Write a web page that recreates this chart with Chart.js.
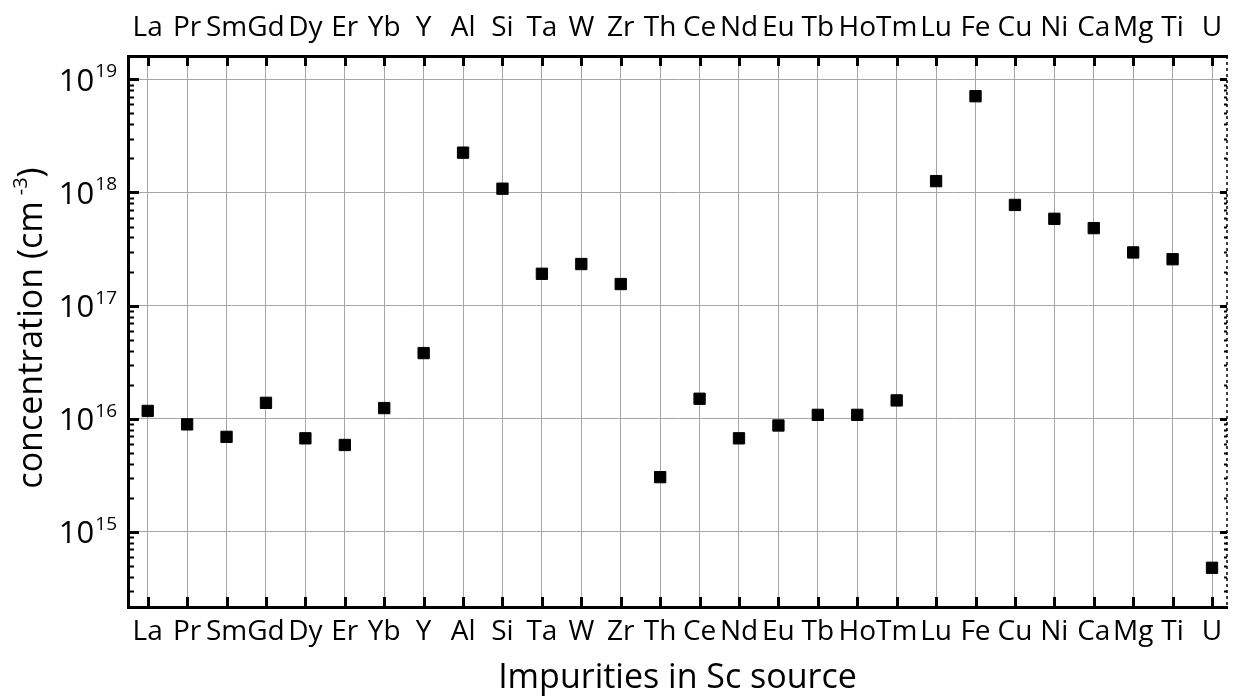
<!DOCTYPE html>
<html>
<head>
<meta charset="utf-8">
<title>Impurities in Sc source</title>
<script src="https://cdn.jsdelivr.net/npm/chart.js@4/dist/chart.umd.min.js"></script>
<style>
  html, body { margin: 0; padding: 0; background: #fff; }
  canvas { display: block; }
</style>
</head>
<body>
<canvas id="impurityChart" width="1236" height="696"></canvas>
<script>
const elements = ['La', 'Pr', 'Sm', 'Gd', 'Dy', 'Er', 'Yb', 'Y', 'Al', 'Si', 'Ta', 'W', 'Zr', 'Th',
    'Ce', 'Nd', 'Eu', 'Tb', 'Ho', 'Tm', 'Lu', 'Fe', 'Cu', 'Ni', 'Ca', 'Mg', 'Ti', 'U'];
const concentrations = [1.17e16, 8.9e15, 6.9e15, 1.38e16, 6.7e15, 5.85e15, 1.24e16, 3.8e16,
    2.25e18, 1.08e18, 1.91e17, 2.33e17, 1.55e17, 3.04e15, 1.5e16, 6.7e15, 8.7e15, 1.08e16,
    1.08e16, 1.45e16, 1.26e18, 7.1e18, 7.76e17, 5.85e17, 4.84e17, 2.95e17, 2.57e17, 4.8e14];
const decades = [15, 16, 17, 18, 19];
const yMin = 2.16e14;
const yMax = 1.61e19;

const FONT = "'Open Sans', sans-serif";
const GRID = '#a6a6a6';

const isDecade = v => {
    const l = Math.log10(v);
    return Math.abs(l - Math.round(l)) < 1e-6;
};

const categoryTicks = scale => {
    scale.ticks = elements.map((_, i) => ({ value: i }));
};

// inward tick marks, the right frame, decade labels and the y title
const axisDecor = {
    id: 'axisDecor',
    afterDraw(chart) {
        const ctx = chart.ctx;
        const { left, right, top, bottom } = chart.chartArea;
        const x = chart.scales.x;
        const y = chart.scales.y;
        ctx.save();
        ctx.strokeStyle = '#000';

        ctx.lineWidth = 3;
        elements.forEach((_, i) => {
            const px = Math.round(x.getPixelForValue(i)) + 0.5;
            ctx.beginPath();
            ctx.moveTo(px, bottom);
            ctx.lineTo(px, bottom - 10);
            ctx.moveTo(px, top);
            ctx.lineTo(px, top + 10);
            ctx.stroke();
        });

        for (let e = 14; e <= 19; e++) {
            for (let m = 1; m <= 9; m++) {
                const v = m * Math.pow(10, e);
                if (v < yMin || v > yMax) continue;
                const py = Math.round(y.getPixelForValue(v)) + 0.5;
                const major = m === 1;
                ctx.lineWidth = major ? 3 : 2;
                ctx.beginPath();
                ctx.moveTo(left, py);
                ctx.lineTo(left + (major ? 11 : 6), py);
                ctx.moveTo(right, py);
                ctx.lineTo(right - (major ? 7 : 3), py);
                ctx.stroke();
            }
        }

        ctx.lineWidth = 1.5;
        ctx.setLineDash([3, 3]);
        ctx.beginPath();
        ctx.moveTo(right, top);
        ctx.lineTo(right, bottom);
        ctx.stroke();
        ctx.setLineDash([]);

        ctx.fillStyle = '#000';
        ctx.textBaseline = 'alphabetic';
        decades.forEach(e => {
            const py = y.getPixelForValue(Math.pow(10, e));
            const sup = String(e);
            ctx.font = `19px ${FONT}`;
            const supX = 117 - ctx.measureText(sup).width;
            ctx.textAlign = 'left';
            ctx.fillText(sup, supX, py - 2);
            ctx.font = `31px ${FONT}`;
            ctx.textAlign = 'right';
            ctx.fillText('10', supX - 1, py + 11.5);
        });

        ctx.translate(42, 328);
        ctx.rotate(-Math.PI / 2);
        ctx.textAlign = 'left';
        const main = 'concentration (cm';
        ctx.font = `34px ${FONT}`;
        const w1 = ctx.measureText(main).width;
        const w3 = ctx.measureText(')').width;
        ctx.font = `20px ${FONT}`;
        const w2 = ctx.measureText('-3').width;
        const gap = 6;
        let tx = -(w1 + gap + w2 + w3) / 2;
        ctx.font = `34px ${FONT}`;
        ctx.fillText(main, tx, 0);
        tx += w1 + gap;
        ctx.font = `20px ${FONT}`;
        ctx.fillText('-3', tx, -15);
        tx += w2;
        ctx.font = `34px ${FONT}`;
        ctx.fillText(')', tx, 0);
        ctx.restore();
    }
};

const tickFont = { family: FONT, size: 28 };

new Chart(document.getElementById('impurityChart'), {
    type: 'scatter',
    data: {
        datasets: [{
            data: concentrations.map((v, i) => ({ x: i, y: v })),
            pointStyle: 'rect',
            pointRadius: 8,
            pointHoverRadius: 8,
            backgroundColor: '#000',
            borderColor: '#000',
            borderWidth: 1
        }]
    },
    options: {
        responsive: false,
        animation: false,
        devicePixelRatio: 1,
        layout: { padding: { left: 0, right: 1, top: 0, bottom: 0 } },
        plugins: { legend: { display: false }, tooltip: { enabled: false } },
        scales: {
            x: {
                type: 'linear',
                position: 'bottom',
                min: -0.5,
                max: 27.38,
                afterBuildTicks: categoryTicks,
                afterFit(scale) { scale.height = 89; },
                ticks: {
                    autoSkip: false, maxRotation: 0, minRotation: 0, padding: 8,
                    color: '#000', font: tickFont,
                    callback: v => elements[v]
                },
                grid: { color: GRID, lineWidth: 1, drawTicks: false },
                border: { color: '#000', width: 3 },
                title: {
                    display: true,
                    text: 'Impurities in Sc source',
                    color: '#000',
                    font: { family: FONT, size: 34, lineHeight: 1 },
                    padding: { top: 0, bottom: 1 }
                }
            },
            x2: {
                type: 'linear',
                axis: 'x',
                position: 'top',
                min: -0.5,
                max: 27.38,
                afterBuildTicks: categoryTicks,
                afterFit(scale) { scale.height = 56; },
                ticks: {
                    autoSkip: false, maxRotation: 0, minRotation: 0, padding: 11,
                    color: '#000', font: tickFont,
                    callback: v => elements[v]
                },
                grid: { display: false, drawTicks: false },
                border: { display: true, color: '#000', width: 3 }
            },
            y: {
                type: 'logarithmic',
                min: yMin,
                max: yMax,
                afterFit(scale) { scale.width = 128; },
                ticks: { display: false },
                grid: {
                    color: c => (c.tick && isDecade(c.tick.value) ? GRID : 'transparent'),
                    lineWidth: 1,
                    drawTicks: false
                },
                border: { color: '#000', width: 3 }
            }
        }
    },
    plugins: [axisDecor]
});
</script>
</body>
</html>
